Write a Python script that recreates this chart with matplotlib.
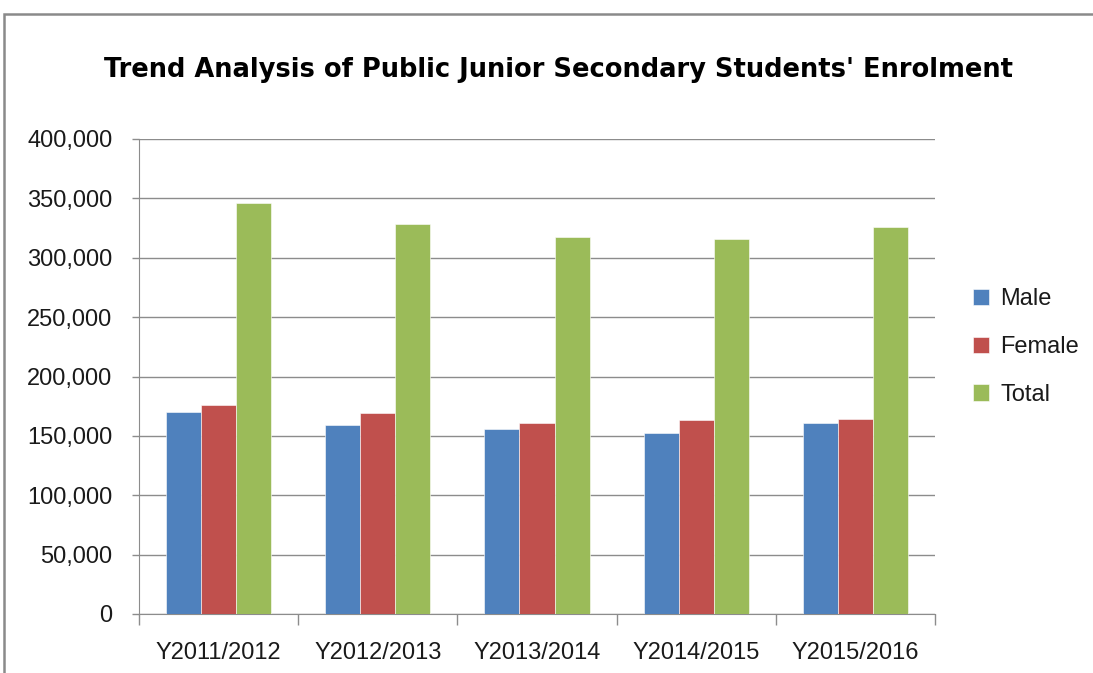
import numpy as np
import matplotlib
matplotlib.use("Agg")
import matplotlib.pyplot as plt
from matplotlib.patches import Rectangle
from matplotlib.ticker import FuncFormatter, MultipleLocator, FixedLocator

YEARS  = ["Y2011/2012", "Y2012/2013", "Y2013/2014", "Y2014/2015", "Y2015/2016"]
MALE   = [170000, 159000, 156000, 152500, 161000]
FEMALE = [176000, 169000, 161000, 163500, 164500]
TOTAL  = [346500, 328500, 317500, 315500, 326000]

SERIES = ["Male", "Female", "Total"]
COLORS = ["#4F81BD", "#C0504D", "#9BBB59"]
GRID   = "#8C8C8C"

W, H = 1093, 673
fig = plt.figure(figsize=(W / 100, H / 100), dpi=100)
plt.rcParams["font.family"] = ["Liberation Sans", "DejaVu Sans"]

# outer chart frame
fig.patches.append(Rectangle((4 / W, -0.05), 1.1, (H - 14) / H + 0.05,
                             transform=fig.transFigure, fill=False,
                             edgecolor="#8A8A8A", linewidth=1.8))

ax = fig.add_axes([139 / W, 59 / H, 796 / W, 475 / H])

x = np.arange(len(YEARS))
bw = 0.22
for i, (vals, name, col) in enumerate(zip([MALE, FEMALE, TOTAL], SERIES, COLORS)):
    ax.bar(x + (i - 1) * bw, vals, width=bw, color=col, edgecolor="white",
           linewidth=0.4, label=name, zorder=3)

ax.set_xlim(-0.5, len(YEARS) - 0.5)
ax.set_ylim(0, 400000)
ax.yaxis.set_major_locator(MultipleLocator(50000))
ax.yaxis.set_major_formatter(FuncFormatter(lambda v, p: f"{int(v):,}"))
ax.grid(axis="y", color=GRID, linewidth=1.0, zorder=0)

ax.set_xticks(x)
ax.set_xticklabels(YEARS, fontsize=17, color="#1a1a1a")
ax.xaxis.set_minor_locator(FixedLocator(np.arange(-0.5, len(YEARS), 1.0)))
ax.tick_params(axis="x", which="major", length=0, pad=20)
ax.tick_params(axis="x", which="minor", length=8, color=GRID, width=1)
ax.tick_params(axis="y", labelsize=17, length=5, color=GRID, width=1,
               pad=14, labelcolor="#1a1a1a")

for s in ["top", "right"]:
    ax.spines[s].set_visible(False)
ax.spines["left"].set_color(GRID)
ax.spines["bottom"].set_color(GRID)

ax.legend(loc="center left", bbox_to_anchor=(1.021, 0.562), frameon=False,
          fontsize=17, handlelength=0.7, handleheight=0.7, labelspacing=1.1,
          handletextpad=0.45, labelcolor="#1a1a1a")

fig.text(558 / W, 1 - 70 / H,
         "Trend Analysis of Public Junior Secondary Students' Enrolment",
         ha="center", va="center", fontsize=18.5, fontweight="bold",
         family=["DejaVu Sans"])

fig.savefig("out.png", dpi=100)
